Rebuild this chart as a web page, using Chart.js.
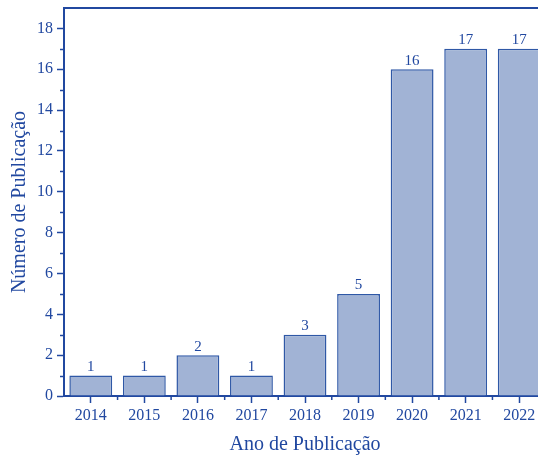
<!DOCTYPE html>
<html>
<head>
<meta charset="utf-8">
<script src="https://cdn.jsdelivr.net/npm/chart.js@4"></script>
<style>
  html, body { margin: 0; padding: 0; background: #fff; overflow: hidden; }
  #wrap { width: 546px; height: 457px; }
</style>
</head>
<body>
<div id="wrap"><canvas id="myChart"></canvas></div>
<script>
// dados
const anos = ['2014', '2015', '2016', '2017', '2018', '2019', '2020', '2021', '2022'];
const publicacoes = [1, 1, 2, 1, 3, 5, 16, 17, 17];
const yTicks = [0, 2, 4, 6, 8, 10, 12, 14, 16, 18];

const azul = '#2148a0';
const fonte = '"Liberation Serif", "DejaVu Serif", serif';

// ticks menores, linha de cima e rotulos das barras
const extras = {
  id: 'extras',
  afterDraw(chart) {
    const c = chart.ctx;
    const area = chart.chartArea;
    const x = chart.scales.x;
    const y = chart.scales.y;
    c.save();
    c.strokeStyle = azul;
    c.lineWidth = 2;
    c.beginPath();
    c.moveTo(area.left - 1, area.top);
    c.lineTo(area.right, area.top);
    c.stroke();
    c.lineWidth = 1.5;
    // menores no eixo y
    for (let v = 1; v < 19; v += 2) {
      const py = Math.round(y.getPixelForValue(v)) + 0.5;
      c.beginPath();
      c.moveTo(area.left, py);
      c.lineTo(area.left - 4, py);
      c.stroke();
    }
    // menores no eixo x (entre categorias)
    for (let i = 1; i < anos.length; i++) {
      const px = (x.getPixelForValue(i - 1) + x.getPixelForValue(i)) / 2;
      c.beginPath();
      c.moveTo(px, area.bottom);
      c.lineTo(px, area.bottom + 4);
      c.stroke();
    }
    // valores acima das barras
    c.fillStyle = azul;
    c.font = '15px ' + fonte;
    c.textAlign = 'center';
    c.textBaseline = 'bottom';
    const meta = chart.getDatasetMeta(0);
    meta.data.forEach((bar, i) => {
      c.fillText(String(publicacoes[i]), bar.x, bar.y - 1);
    });
    c.restore();
  }
};

const ctx = document.getElementById('myChart');
const grafico = new Chart(ctx, {
  type: 'bar',
  data: {
    labels: anos,
    datasets: [{
      data: publicacoes,
      backgroundColor: '#a1b3d5',
      borderColor: '#2f58a6',
      borderWidth: 1.5,
      barPercentage: 0.8,
      categoryPercentage: 1
    }]
  },
  options: {
    responsive: true,
    maintainAspectRatio: false,
    animation: false,
    layout: { padding: { top: 8, right: 0, left: 0, bottom: 0 } },
    plugins: {
      legend: { display: false },
      tooltip: { enabled: false }
    },
    scales: {
      x: {
        offset: true,
        grid: {
          display: true,
          offset: false,
          drawOnChartArea: false,
          tickLength: 7,
          tickWidth: 1.5,
          tickColor: azul
        },
        border: { display: true, color: azul, width: 2 },
        ticks: {
          color: azul,
          font: { family: fonte, size: 16 },
          padding: 3,
          maxRotation: 0
        },
        title: {
          display: true,
          text: 'Ano de Publicação',
          color: azul,
          font: { family: fonte, size: 20 },
          padding: { top: 6, bottom: 0 }
        },
        afterFit(scale) { scale.height = 61; }
      },
      y: {
        min: 0,
        max: 19,
        afterBuildTicks(scale) {
          scale.ticks = yTicks.map(v => ({ value: v }));
        },
        grid: {
          drawOnChartArea: false,
          tickLength: 7,
          tickWidth: 1.5,
          tickColor: azul
        },
        border: { display: true, color: azul, width: 2 },
        ticks: {
          color: azul,
          font: { family: fonte, size: 16 },
          padding: 4
        },
        title: {
          display: true,
          text: 'Número de Publicação',
          color: azul,
          font: { family: fonte, size: 20 },
          padding: { top: 8, bottom: 0 }
        },
        afterFit(scale) {
          scale.width = 64;
          scale.paddingTop = 0;
        }
      }
    }
  },
  plugins: [extras]
});
</script>
</body>
</html>
